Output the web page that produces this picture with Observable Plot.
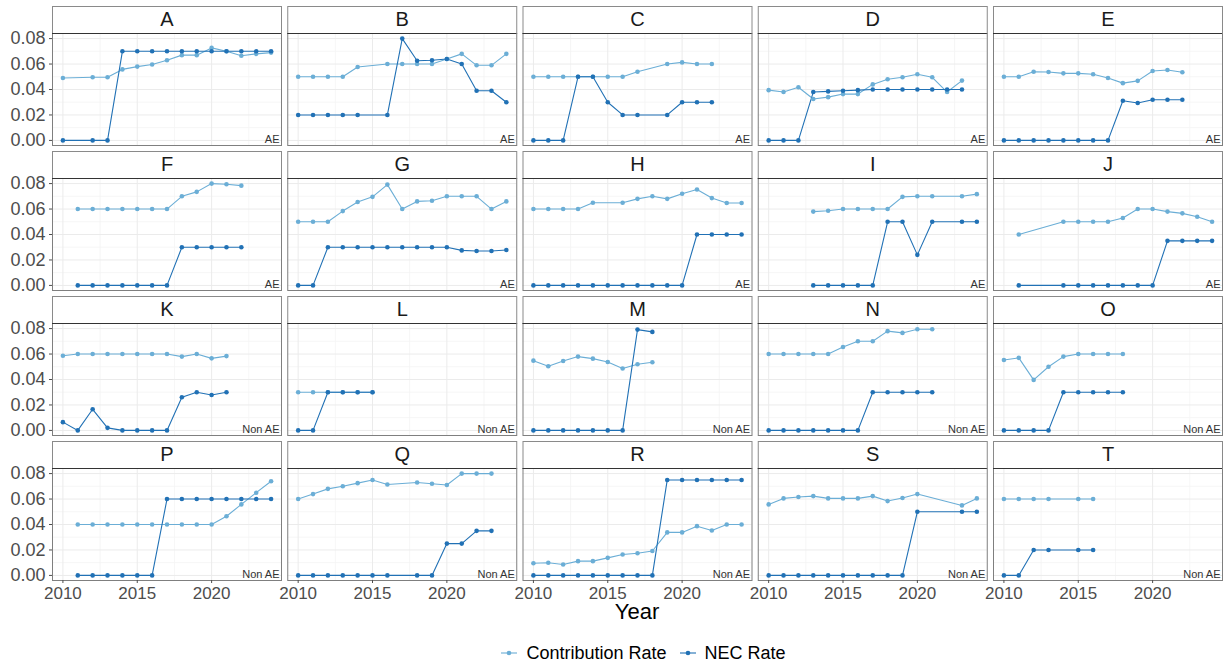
<!DOCTYPE html>
<html>
<head>
<meta charset="utf-8">
<script src="https://cdn.jsdelivr.net/npm/d3@7"></script>
<script src="https://cdn.jsdelivr.net/npm/@observablehq/plot@0.6"></script>
<style>
  html, body { margin: 0; padding: 0; background: #fff; }
  body { width: 1229px; height: 666px; position: relative; overflow: hidden;
         font-family: "Liberation Sans", Arial, sans-serif; }
  #chart { position: absolute; left: 0; top: 0; }
  #xtitle { position: absolute; left: 52px; width: 1170px; top: 600px; height: 24px;
            line-height: 24px; text-align: center; font-size: 22px; color: #000; }
  #legend { position: absolute; left: 0; width: 1229px; top: 641px; height: 24px;
            display: flex; justify-content: center; align-items: center; padding-left: 57px;
            box-sizing: border-box; font-size: 18px; color: #000; }
  .item { display: flex; align-items: center; margin: 0 6px; }
  .item svg { margin-right: 8px; }
</style>
</head>
<body>
<div id="chart"></div>
<div id="xtitle">Year</div>
<div id="legend"></div>
<script>
// ---- data ----
const panels = ["A","B","C","D","E","F","G","H","I","J","K","L","M","N","O","P","Q","R","S","T"];
const groups = ["AE","AE","AE","AE","AE","AE","AE","AE","AE","AE",
                "Non AE","Non AE","Non AE","Non AE","Non AE","Non AE","Non AE","Non AE","Non AE","Non AE"];
const seriesNames = ["Contribution Rate", "NEC Rate"];
const seriesColors = ["#6BAED6", "#2171B5"];
const yTicks = [0, 0.02, 0.04, 0.06, 0.08];
const yMinor = [0.01, 0.03, 0.05, 0.07];
const xTicks = [2010, 2015, 2020];
const xMinor = [2012.5, 2017.5, 2022.5];

const yearsA = [2010,2012,2013,2014,2015,2016,2017,2018,2019,2020,2021,2022,2023,2024];
const contribA = [0.049,0.0496,0.0496,0.0558,0.058,0.0597,0.063,0.067,0.067,0.0727,0.070,0.0665,0.068,0.069];
const necA = [0,0,0,0.07,0.07,0.07,0.07,0.07,0.07,0.07,0.07,0.07,0.07,0.07];

const yearsB = [2010,2011,2012,2013,2014,2016,2017,2018,2019,2020,2021,2022,2023,2024];
const contribB = [0.05,0.05,0.05,0.05,0.0577,0.06,0.06,0.06,0.06,0.064,0.068,0.059,0.059,0.068];
const necB = [0.02,0.02,0.02,0.02,0.02,0.02,0.08,0.0626,0.063,0.064,0.06,0.039,0.039,0.03];

const yearsC = [2010,2011,2012,2013,2014,2015,2016,2017,2019,2020,2021,2022];
const contribC = [0.05,0.05,0.05,0.05,0.05,0.05,0.05,0.054,0.06,0.0613,0.06,0.06];
const necC = [0,0,0,0.05,0.05,0.03,0.02,0.02,0.02,0.03,0.03,0.03];

const yearsD = [2010,2011,2012,2013,2014,2015,2016,2017,2018,2019,2020,2021,2022,2023];
const contribD = [0.0395,0.038,0.0418,0.0325,0.034,0.0364,0.0364,0.044,0.048,0.0496,0.052,0.0496,0.038,0.047];
const necD = [0,0,0,0.038,0.0385,0.039,0.0395,0.04,0.04,0.04,0.04,0.04,0.04,0.04];

const yearsE = [2010,2011,2012,2013,2014,2015,2016,2017,2018,2019,2020,2021,2022];
const contribE = [0.05,0.05,0.054,0.0538,0.0527,0.0527,0.052,0.049,0.045,0.0468,0.0545,0.0553,0.0535];
const necE = [0,0,0,0,0,0,0,0,0.0312,0.0294,0.032,0.032,0.032];

const yearsF = [2011,2012,2013,2014,2015,2016,2017,2018,2019,2020,2021,2022];
const contribF = [0.06,0.06,0.06,0.06,0.06,0.06,0.06,0.07,0.0735,0.08,0.0795,0.0784];
const necF = [0,0,0,0,0,0,0,0.03,0.03,0.03,0.03,0.03];

const yearsG = [2010,2011,2012,2013,2014,2015,2016,2017,2018,2019,2020,2021,2022,2023,2024];
const contribG = [0.05,0.05,0.05,0.0584,0.0655,0.0696,0.0792,0.06,0.066,0.0665,0.07,0.07,0.07,0.06,0.066];
const necG = [0,0,0.03,0.03,0.03,0.03,0.03,0.03,0.03,0.03,0.03,0.0275,0.027,0.027,0.0278];

const yearsH = [2010,2011,2012,2013,2014,2015,2016,2017,2018,2019,2020,2021,2022,2023,2024];
const contribH = [0.06,0.06,0.06,0.06,0.065,null,0.065,0.068,0.07,0.068,0.072,0.0753,0.0686,0.0647,0.0647];
const necH = [0,0,0,0,0,0,0,0,0,0,0,0.04,0.04,0.04,0.04];

const yearsI = [2013,2014,2015,2016,2017,2018,2019,2020,2021,2023,2024];
const contribI = [0.058,0.0587,0.06,0.06,0.06,0.06,0.0696,0.07,0.07,0.07,0.0717];
const necI = [0,0,0,0,0,0.05,0.05,0.024,0.05,0.05,0.05];

const yearsJ = [2011,2014,2015,2016,2017,2018,2019,2020,2021,2022,2023,2024];
const contribJ = [0.04,0.05,0.05,0.05,0.05,0.053,0.06,0.06,0.058,0.0566,0.054,0.05];
const necJ = [0,0,0,0,0,0,0,0,0.035,0.035,0.035,0.035];

const yearsK = [2010,2011,2012,2013,2014,2015,2016,2017,2018,2019,2020,2021];
const contribK = [0.0587,0.06,0.06,0.06,0.06,0.06,0.06,0.06,0.058,0.06,0.0566,0.0584];
const necK = [0.0065,0,0.0166,0.002,0,0,0,0,0.026,0.03,0.0278,0.03];

const yearsL = [2010,2011,2012,2013,2014,2015];
const contribL = [0.03,0.03,0.03,0.03,0.03,0.03];
const necL = [0,0,0.03,0.03,0.03,0.03];

const yearsM = [2010,2011,2012,2013,2014,2015,2016,2017,2018];
const contribM = [0.0548,0.0504,0.0545,0.058,0.0564,0.0538,0.0486,0.052,0.0535];
const necM = [0,0,0,0,0,0,0,0.0792,0.0774];

const yearsN = [2010,2011,2012,2013,2014,2015,2016,2017,2018,2019,2020,2021];
const contribN = [0.06,0.06,0.06,0.06,0.06,0.0655,0.07,0.07,0.078,0.0766,0.0795,0.0795];
const necN = [0,0,0,0,0,0,0,0.03,0.03,0.03,0.03,0.03];

const yearsO = [2010,2011,2012,2013,2014,2015,2016,2017,2018];
const contribO = [0.0553,0.057,0.0397,0.05,0.058,0.06,0.06,0.06,0.06];
const necO = [0,0,0,0,0.03,0.03,0.03,0.03,0.03];

const yearsP = [2011,2012,2013,2014,2015,2016,2017,2018,2019,2020,2021,2022,2023,2024];
const contribP = [0.04,0.04,0.04,0.04,0.04,0.04,0.04,0.04,0.04,0.04,0.0465,0.0558,0.065,0.074];
const necP = [0,0,0,0,0,0,0.06,0.06,0.06,0.06,0.06,0.06,0.06,0.06];

const yearsQ = [2010,2011,2012,2013,2014,2015,2016,2018,2019,2020,2021,2022,2023];
const contribQ = [0.06,0.0639,0.068,0.07,0.0725,0.075,0.0714,0.073,0.072,0.071,0.08,0.08,0.08];
const necQ = [0,0,0,0,0,0,0,0,0,0.025,0.025,0.035,0.035];

const yearsR = [2010,2011,2012,2013,2014,2015,2016,2017,2018,2019,2020,2021,2022,2023,2024];
const contribR = [0.0096,0.0099,0.0086,0.0112,0.0112,0.0138,0.0164,0.0174,0.0192,0.0338,0.0338,0.0387,0.0353,0.04,0.04];
const necR = [0,0,0,0,0,0,0,0,0,0.075,0.075,0.075,0.075,0.075,0.075];

const yearsS = [2010,2011,2012,2013,2014,2015,2016,2017,2018,2019,2020,2023,2024];
const contribS = [0.0558,0.0605,0.0616,0.0623,0.0605,0.0605,0.0605,0.0623,0.0584,0.0608,0.0639,0.055,0.0605];
const necS = [0,0,0,0,0,0,0,0,0,0,0.05,0.05,0.05];

const yearsT = [2010,2011,2012,2013,2015,2016];
const contribT = [0.06,0.06,0.06,0.06,0.06,0.06];
const necT = [0,0,0.02,0.02,0.02,0.02];

// ---- build table ----
const panelData = [
  [yearsA, contribA, necA], [yearsB, contribB, necB], [yearsC, contribC, necC], [yearsD, contribD, necD], [yearsE, contribE, necE],
  [yearsF, contribF, necF], [yearsG, contribG, necG], [yearsH, contribH, necH], [yearsI, contribI, necI], [yearsJ, contribJ, necJ],
  [yearsK, contribK, necK], [yearsL, contribL, necL], [yearsM, contribM, necM], [yearsN, contribN, necN], [yearsO, contribO, necO],
  [yearsP, contribP, necP], [yearsQ, contribQ, necQ], [yearsR, contribR, necR], [yearsS, contribS, necS], [yearsT, contribT, necT]
];
const nCols = 5;
const rows = [];
panelData.forEach(([yrs, c, n], i) => {
  const col = i % nCols, row = Math.floor(i / nCols);
  [c, n].forEach((vals, s) => {
    yrs.forEach((yr, j) => {
      if (vals[j] != null) rows.push({panel: panels[i], col, row, year: yr, value: vals[j], series: seriesNames[s]});
    });
  });
});
const panelTable = panels.map((p, i) => ({panel: p, group: groups[i], col: i % nCols, row: Math.floor(i / nCols)}));

// ggplot-like 5% expansion
const allYears = rows.map(d => d.year);
const xMin = d3.min(allYears), xMax = d3.max(allYears);
const xPad = (xMax - xMin) * 0.05;
const xDomain = [xMin - xPad, xMax + xPad];
const yRange = yTicks[yTicks.length - 1] - yTicks[0];
const yLo = yTicks[0] - yRange * 0.05, yHi = yTicks[yTicks.length - 1] + yRange * 0.05;
const panelPx = 112, stripPx = 27;
const yTop = yHi + stripPx * (yHi - yLo) / panelPx;

const chart = Plot.plot({
  width: 1229,
  height: 606,
  marginLeft: 52,
  marginRight: 7,
  marginTop: 6,
  marginBottom: 26,
  style: {fontFamily: "'Liberation Sans', Arial, sans-serif", background: "white"},
  fx: {axis: null, domain: d3.range(nCols), paddingInner: 25 / 941, paddingOuter: 0, round: false},
  fy: {axis: null, domain: d3.range(4), paddingInner: 6 / 145, paddingOuter: 0, round: false},
  x: {domain: xDomain},
  y: {domain: [yLo, yTop]},
  color: {domain: seriesNames, range: seriesColors},
  marks: [
    Plot.ruleY(yMinor, {stroke: "#F4F4F4", strokeWidth: 0.8}),
    Plot.ruleX(xMinor, {y1: yLo, y2: yHi, stroke: "#F4F4F4", strokeWidth: 0.8}),
    Plot.ruleY(yTicks, {stroke: "#EBEBEB", strokeWidth: 1}),
    Plot.ruleX(xTicks, {y1: yLo, y2: yHi, stroke: "#EBEBEB", strokeWidth: 1}),
    Plot.frame({insetTop: stripPx, stroke: "#7F7F7F", strokeWidth: 1}),
    Plot.frame({insetBottom: panelPx, fill: "white", stroke: "#8A8A8A", strokeWidth: 1}),
    Plot.ruleY([yHi], {stroke: "#333333", strokeWidth: 1}),
    Plot.text(panelTable, {fx: "col", fy: "row", text: "panel", frameAnchor: "top", dy: stripPx / 2, lineAnchor: "middle", fontSize: 20, fill: "#1A1A1A"}),
    Plot.text(panelTable, {fx: "col", fy: "row", text: "group", frameAnchor: "bottom-right", dx: -2, dy: -3, lineAnchor: "bottom", fontSize: 11, fill: "#333333"}),
    Plot.line(rows, {fx: "col", fy: "row", x: "year", y: "value", z: "series", stroke: "series", strokeWidth: 1.1}),
    Plot.dot(rows, {fx: "col", fy: "row", x: "year", y: "value", fill: "series", r: 2.3}),
    Plot.axisY({ticks: yTicks, tickFormat: d3.format(".2f"), facetAnchor: "left", label: null,
                tickSize: 3, tickPadding: 4, fontSize: 18, color: "#4D4D4D"}),
    Plot.axisX({ticks: xTicks, tickFormat: "d", facetAnchor: "bottom", label: null,
                tickSize: 3, tickPadding: 3, fontSize: 17, color: "#4D4D4D"})
  ]
});
document.getElementById("chart").appendChild(chart);

// legend
const legend = document.getElementById("legend");
seriesNames.forEach((name, i) => {
  const item = document.createElement("div");
  item.className = "item";
  item.innerHTML = `<svg width="18" height="10"><line x1="1" x2="17" y1="5" y2="5" stroke="${seriesColors[i]}" stroke-width="1.1"/><circle cx="9" cy="5" r="2.3" fill="${seriesColors[i]}"/></svg><span>${name}</span>`;
  legend.appendChild(item);
});
</script>
</body>
</html>
